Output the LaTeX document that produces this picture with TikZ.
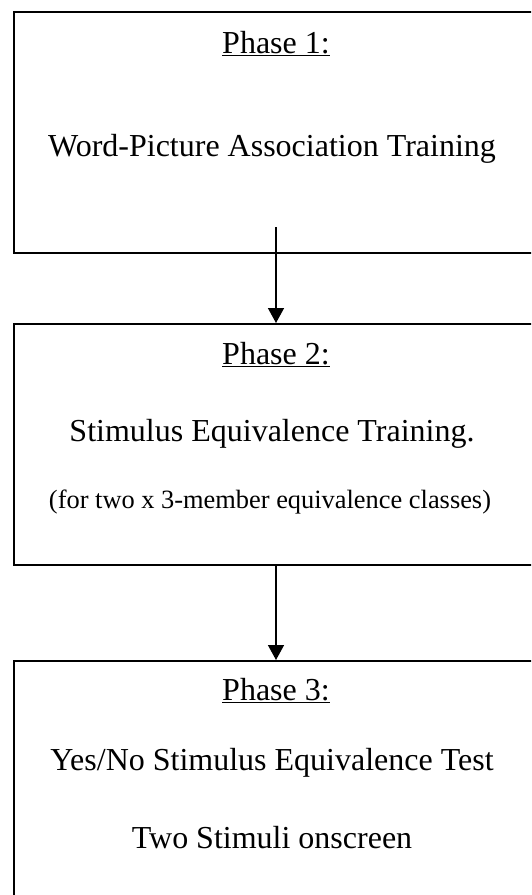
\documentclass[tikz,border=0pt]{standalone}
\usepackage{fontspec}
\setmainfont{Liberation Serif}
\usetikzlibrary{arrows.meta}
\begin{document}
\begin{tikzpicture}[x=1pt,y=-1pt,
  phasebox/.style={draw,line width=2pt,minimum width=560pt,minimum height=#1,anchor=north west,inner sep=0pt},
  bigtext/.style={anchor=base,inner sep=0pt,font=\fontsize{32}{38}\selectfont},
  smalltext/.style={anchor=base,inner sep=0pt,font=\fontsize{26.4}{31}\selectfont},
  flow/.style={line width=1.5pt,-{Triangle[length=15pt,width=16pt]}}]
\useasboundingbox (0,0) rectangle (531,895);
\clip (0,0) rectangle (531,895);
\fill[white] (0,0) rectangle (531,895);

% the three phase boxes
\node[phasebox=241pt] (p1) at (13,11) {};
\node[phasebox=241pt] (p2) at (13,323) {};
\node[phasebox=260pt] (p3) at (13,660) {};

% box texts
\node[bigtext] (t1a) at (276,53) {\underline{Phase 1:}};
\node[bigtext] (t1b) at (272,156) {Word-Picture Association Training};
\node[bigtext] (t2a) at (276,364) {\underline{Phase 2:}};
\node[bigtext] (t2b) at (272,441) {Stimulus Equivalence Training.};
\node[smalltext] (t2c) at (270,508) {(for two x 3-member equivalence classes)};
\node[bigtext] (t3a) at (276,700) {\underline{Phase 3:}};
\node[bigtext] (t3b) at (272,770) {Yes/No Stimulus Equivalence Test};
\node[bigtext] (t3c) at (272,848) {Two Stimuli onscreen};

% connectors
\coordinate (a1) at (276,227);
\coordinate (a2) at (276,0);
\draw[flow] (a1) -- (a1 |- p2.north);
\draw[flow] (a2 |- p2.south) -- (a2 |- p3.north);
\end{tikzpicture}
\end{document}
